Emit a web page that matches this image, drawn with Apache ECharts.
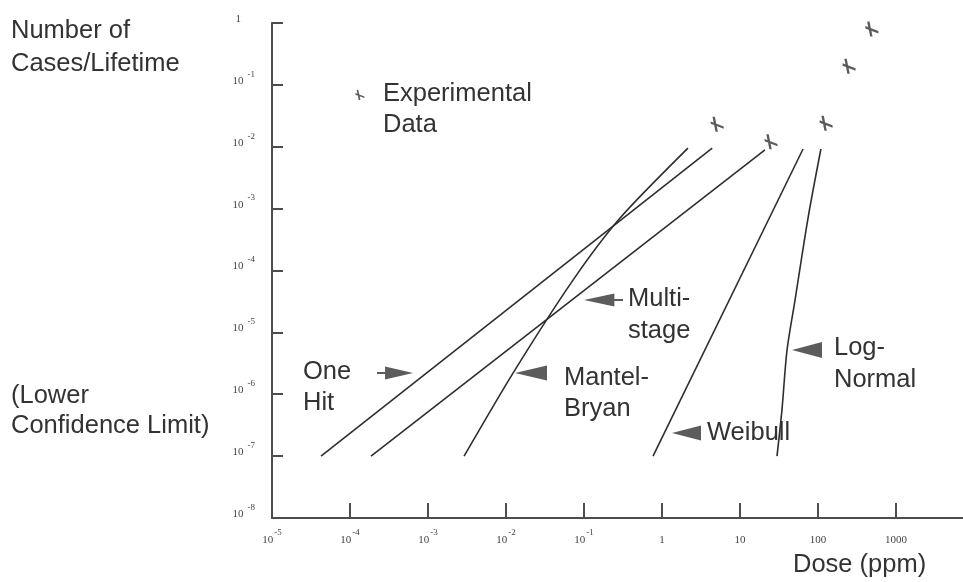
<!DOCTYPE html>
<html><head><meta charset="utf-8">
<script src="https://cdn.jsdelivr.net/npm/echarts@6/dist/echarts.min.js"></script>
<style>html,body{margin:0;padding:0;background:#fff}#c{width:963px;height:582px}</style>
</head><body><div id="c"></div>
<script>
// ---- data (dose in ppm, response in cases/lifetime) ----
const xTickValues = [1e-5, 1e-4, 1e-3, 1e-2, 1e-1, 1, 10, 100, 1000];
const yTickValues = [1e-8, 1e-7, 1e-6, 1e-5, 1e-4, 1e-3, 1e-2, 1e-1, 1];
const experimentalDose = [5.1, 25, 127, 250, 490];
const experimentalCases = [0.023, 0.012, 0.024, 0.2, 0.8];
const oneHitDose = [4.25e-5, 4.4];
const oneHitCases = [1e-7, 0.0095];
const multistageDose = [1.86e-4, 20.9];
const multistageCases = [1e-7, 0.0089];
const mantelBryanDose = [2.9e-3, 0.0123, 0.0723, 0.29, 2.15];
const mantelBryanCases = [1e-7, 2.2e-6, 7.0e-5, 7.05e-4, 0.0095];
const weibullDose = [0.767, 64.3];
const weibullCases = [1e-7, 0.0092];
const logNormalDose = [29.8, 34.5, 40.1, 50.7, 74.5, 109];
const logNormalCases = [1e-7, 5.6e-7, 5.2e-6, 3.3e-5, 7.05e-4, 0.0092];
// annotation arrow anchors (dose, cases)
const arrowNames = ['One Hit', 'Mantel-Bryan', 'Multistage', 'Log-Normal', 'Weibull'];
const arrowDose = [3.78e-4, 0.0209, 0.178, 72.3, 2.06];
const arrowCases = [2.2e-6, 2.2e-6, 3.33e-5, 5.19e-6, 2.36e-7];
const legendMarkDose = [1.34e-4];
const legendMarkCases = [0.0686];

const zip = (a, b) => a.map((v, i) => [v, b[i]]);

const LINE = '#2e2e2e';
const TXT = '#333';
const AX = '#4d4d4d';
const FONT = 'Liberation Sans, Arial, Helvetica, sans-serif';
const FS = 25.5;

const crossPath = 'path://M1.8,0L4.2,0L7.2,15L4.8,15Z M0,4.6L13,9.6L13,12L0,7Z';
const leftTail = 'path://M0,6.5L28,0L28,5.5L36,5.5L36,7.5L28,7.5L28,13Z';
const rightTail = 'path://M36,6.5L8,0L8,5.5L0,5.5L0,7.5L8,7.5L8,13Z';
const leftHead = 'path://M0,5L20,0L20,10Z';
const arrowSymbols = [rightTail, leftHead, leftTail, leftHead, leftHead];
const arrowSizes = [[36, 13], [32, 15], [39, 13], [30, 16], [29, 15]];

function expLabel(v, isY) {
  const e = Math.round(Math.log10(v));
  if (e > 3) return '';
  if (e >= 0) {
    const t = String(Math.round(Math.pow(10, e)));
    return isY ? '{b|' + t + '}{sp| }' : '{b|' + t + '}';
  }
  return '{b|10}{s|' + e + '}';
}

const chart = echarts.init(document.getElementById('c'), null, {renderer: 'canvas'});
const texts = [
  ['Number of', 11, 31], ['Cases/Lifetime', 11, 64],
  ['(Lower', 11, 396], ['Confidence Limit)', 11, 426],
  ['Experimental', 383, 94], ['Data', 383, 125],
  ['One', 303, 372], ['Hit', 303, 403],
  ['Mantel-', 564, 378], ['Bryan', 564, 409],
  ['Multi-', 628, 299], ['stage', 628, 331],
  ['Log-', 834, 348], ['Normal', 834, 380],
  ['Weibull', 707, 433],
  ['Dose (ppm)', 793, 565]
];

chart.setOption({
  animation: false,
  backgroundColor: '#fff',
  grid: {left: 272, top: 23, right: -11, bottom: 64, containLabel: false, outerBoundsMode: 'none'},
  xAxis: {
    type: 'log', logBase: 10, min: 1e-5, max: 1e4, splitNumber: 9,
    axisLine: {lineStyle: {color: AX, width: 2}},
    axisTick: {inside: true, length: 15, lineStyle: {color: AX, width: 2}},
    splitLine: {show: false}, minorTick: {show: false},
    axisLabel: {
      margin: 10, color: '#444',
      formatter: v => expLabel(v, false),
      rich: {
        b: {fontFamily: 'Liberation Serif', fontSize: 11, lineHeight: 24, color: '#444'},
        s: {fontFamily: 'Liberation Serif', fontSize: 9, lineHeight: 9, verticalAlign: 'top', padding: [0, 0, 0, 1], color: '#444'}
      }
    }
  },
  yAxis: {
    type: 'log', logBase: 10, min: 1e-8, max: 1, splitNumber: 8,
    axisLine: {lineStyle: {color: AX, width: 2}},
    axisTick: {inside: true, length: 11, lineStyle: {color: AX, width: 2}},
    splitLine: {show: false}, minorTick: {show: false},
    axisLabel: {
      margin: 17, color: '#444', padding: [0, 0, 8, 0],
      formatter: v => expLabel(v, true),
      rich: {
        b: {fontFamily: 'Liberation Serif', fontSize: 11, lineHeight: 22, color: '#444'},
        s: {fontFamily: 'Liberation Serif', fontSize: 9, lineHeight: 9, verticalAlign: 'top', padding: [0, 0, 0, 4], color: '#444'},
        sp: {width: 14, fontSize: 9}
      }
    }
  },
  series: [
    {name: 'One Hit', type: 'line', data: zip(oneHitDose, oneHitCases), symbol: 'none', lineStyle: {color: LINE, width: 1.6}},
    {name: 'Multistage', type: 'line', data: zip(multistageDose, multistageCases), symbol: 'none', lineStyle: {color: LINE, width: 1.6}},
    {name: 'Mantel-Bryan', type: 'line', data: zip(mantelBryanDose, mantelBryanCases), smooth: 0.25, symbol: 'none', lineStyle: {color: LINE, width: 1.6}},
    {name: 'Weibull', type: 'line', data: zip(weibullDose, weibullCases), symbol: 'none', lineStyle: {color: LINE, width: 1.6}},
    {name: 'Log-Normal', type: 'line', data: zip(logNormalDose, logNormalCases), smooth: 0.3, symbol: 'none', lineStyle: {color: LINE, width: 1.6}},
    {name: 'Experimental Data', type: 'scatter', data: zip(experimentalDose, experimentalCases), symbol: crossPath, symbolSize: [13, 15], itemStyle: {color: '#333'}},
    {name: 'legend mark', type: 'scatter', data: zip(legendMarkDose, legendMarkCases), symbol: crossPath, symbolSize: [9, 10], itemStyle: {color: '#333'}},
    {name: 'arrows', type: 'scatter', itemStyle: {color: '#333'},
      data: arrowNames.map((n, i) => ({name: n, value: [arrowDose[i], arrowCases[i]], symbol: arrowSymbols[i], symbolSize: arrowSizes[i]}))}
  ],
  graphic: texts.map(t => ({
    type: 'text', x: t[1], y: t[2], silent: true,
    style: {text: t[0], fill: TXT, font: FS + 'px ' + FONT, verticalAlign: 'middle', align: 'left'}
  }))
});
</script></body></html>
